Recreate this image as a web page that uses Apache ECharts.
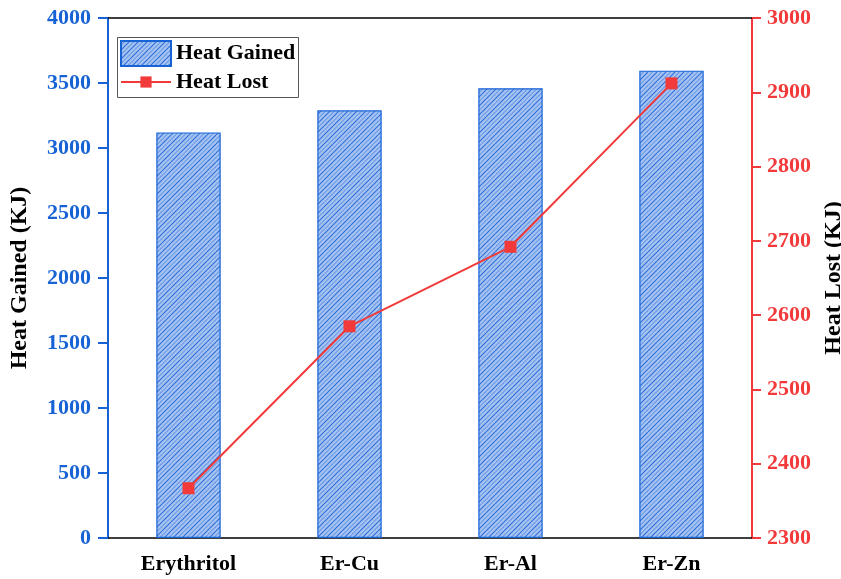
<!DOCTYPE html>
<html>
<head>
<meta charset="utf-8">
<script src="https://cdn.jsdelivr.net/npm/echarts@6/dist/echarts.min.js"></script>
<style>
html,body{margin:0;padding:0;background:#fff;}
#chart{width:841px;height:579px;}
</style>
</head>
<body>
<div id="chart"></div>
<script>
// Samples and measured heat values
const categories = ['Erythritol', 'Er-Cu', 'Er-Al', 'Er-Zn'];
const heatGained = [3120, 3290, 3460, 3595];
const heatLost = [2367, 2585, 2692, 2912];
const leftTicks = [0, 500, 1000, 1500, 2000, 2500, 3000, 3500, 4000];
const rightTicks = [2300, 2400, 2500, 2600, 2700, 2800, 2900, 3000];

const FONT = "'Liberation Serif', 'Times New Roman', serif";
const BLUE = '#1763d6';
const RED = '#f23a3a';

// Diagonal hatch fill for the bars: alternating dark and light strokes
function hatchPattern() {
  const s = 9;
  const c = document.createElement('canvas');
  c.width = s; c.height = s;
  const g = c.getContext('2d');
  g.fillStyle = '#a6c3f1';
  g.fillRect(0, 0, s, s);
  g.lineWidth = 1.1;
  const stroke = (shift, col) => {
    g.strokeStyle = col;
    for (let k = -2; k <= 2; k++) {
      g.beginPath();
      g.moveTo(k * s + shift, s);
      g.lineTo(k * s + shift + s, 0);
      g.stroke();
    }
  };
  stroke(0, '#2a6cd8');
  stroke(s / 2, '#6a9be6');
  return c;
}

const chart = echarts.init(document.getElementById('chart'), null, {renderer: 'canvas'});
const fill = {image: hatchPattern(), repeat: 'repeat'};

const legendText = {fontFamily: FONT, fontWeight: 'bold', fontSize: 22, color: '#000'};

chart.setOption({
  animation: false,
  backgroundColor: '#fff',
  grid: {left: 108, right: 89, top: 18, bottom: 41, outerBoundsMode: 'none', containLabel: false},
  // legend frame around both entries
  graphic: [{
    type: 'rect', left: 117, top: 37, z: 10,
    shape: {width: 181, height: 60},
    style: {fill: 'rgba(0,0,0,0)', stroke: '#555', lineWidth: 1}
  }],
  legend: [{
    left: 120, top: 40, padding: 0,
    itemWidth: 50, itemHeight: 25, itemGap: 0,
    textStyle: legendText,
    data: [{name: 'Heat Gained', icon: 'rect'}]
  }, {
    left: 120, top: 71, padding: 0,
    itemWidth: 50, itemHeight: 14, itemGap: 0,
    textStyle: legendText,
    data: ['Heat Lost']
  }],
  xAxis: [{
    type: 'category',
    data: categories,
    axisLine: {lineStyle: {color: '#000', width: 1.5}},
    axisTick: {length: 10, alignWithLabel: true, lineStyle: {color: '#000', width: 1.5}},
    axisLabel: {fontFamily: FONT, fontWeight: 'bold', fontSize: 22, color: '#000', margin: 15}
  }, {
    type: 'category',
    position: 'top',
    data: categories,
    axisLine: {show: true, lineStyle: {color: '#000', width: 1.5}},
    axisTick: {show: false},
    axisLabel: {show: false}
  }],
  yAxis: [{
    type: 'value',
    min: 0, max: 4000, interval: 500,
    name: 'Heat Gained (KJ)',
    nameLocation: 'middle', nameGap: 76,
    nameTextStyle: {fontFamily: FONT, fontWeight: 'bold', fontSize: 24, color: '#000'},
    axisLine: {show: true, lineStyle: {color: BLUE, width: 2}},
    axisTick: {show: true, length: 10, lineStyle: {color: BLUE, width: 2}},
    axisLabel: {fontFamily: FONT, fontWeight: 'bold', fontSize: 22, color: BLUE, margin: 17,
      formatter: v => leftTicks.includes(v) ? String(v) : ''},
    splitLine: {show: false}
  }, {
    type: 'value',
    min: 2300, max: 3000, interval: 100,
    position: 'right',
    name: 'Heat Lost (KJ)',
    nameLocation: 'middle', nameGap: 70, nameRotate: 90,
    nameTextStyle: {fontFamily: FONT, fontWeight: 'bold', fontSize: 24, color: '#000'},
    axisLine: {show: true, lineStyle: {color: RED, width: 2}},
    axisTick: {show: true, length: 9, lineStyle: {color: RED, width: 2}},
    axisLabel: {fontFamily: FONT, fontWeight: 'bold', fontSize: 22, color: RED, margin: 15,
      formatter: v => rightTicks.includes(v) ? String(v) : ''},
    splitLine: {show: false}
  }],
  series: [{
    name: 'Heat Gained',
    type: 'bar',
    barWidth: '40%',
    data: heatGained,
    itemStyle: {color: fill, borderColor: BLUE, borderWidth: 1.2}
  }, {
    name: 'Heat Lost',
    type: 'line',
    yAxisIndex: 1,
    data: heatLost,
    symbol: 'rect', symbolSize: 12,
    lineStyle: {color: RED, width: 2},
    itemStyle: {color: RED}
  }]
});
</script>
</body>
</html>
